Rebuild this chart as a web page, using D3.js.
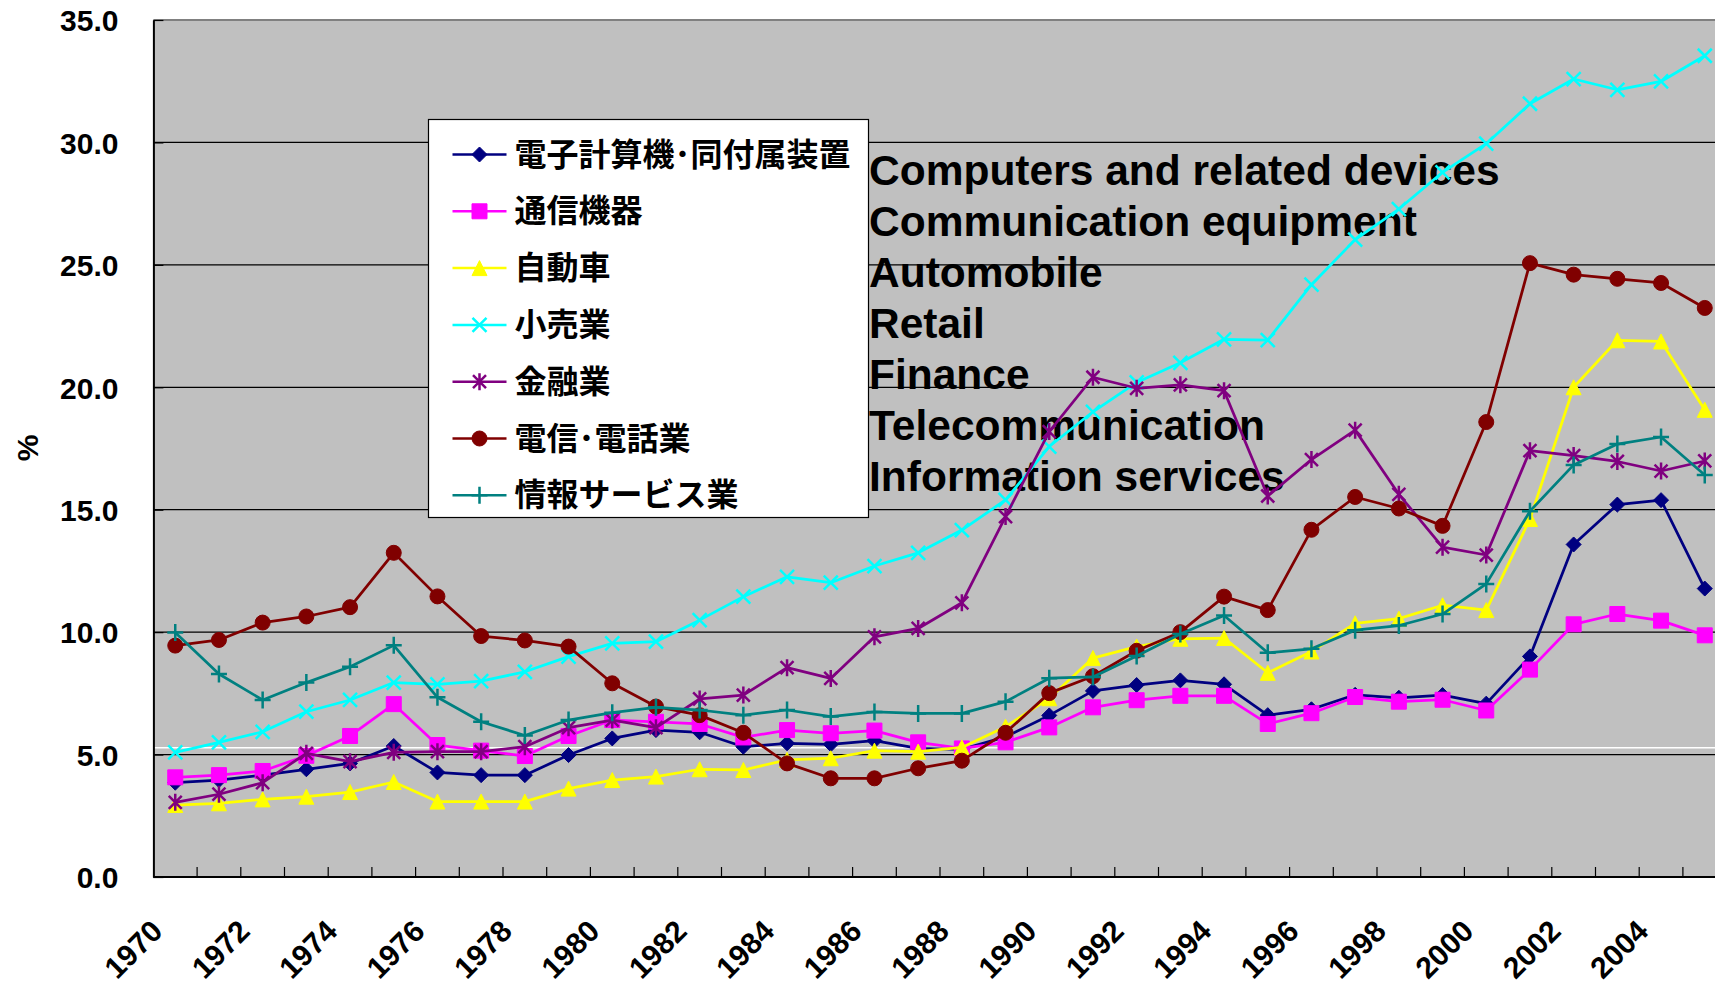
<!DOCTYPE html>
<html lang="ja">
	<head>
		<meta charset="utf-8">
		<title>業種別 推移</title>
		<script type="text/javascript" src="https://cdn.jsdelivr.net/npm/d3@7"></script>
		<style type="text/css">
			body{
				margin: 0;
				background: #ffffff;
			}
			.ylab, .xlab, .unit{
				font-family: "Liberation Sans", Arial, sans-serif;
				font-weight: bold;
				font-size: 30px;
				fill: #000000;
			}
			.legText{
				font-family: "Noto Sans CJK JP", sans-serif;
				font-weight: bold;
				font-size: 32px;
				fill: #000000;
			}
			.enText{
				font-family: "Liberation Sans", Arial, sans-serif;
				font-weight: bold;
				font-size: 42.5px;
				fill: #000000;
			}
		</style>
	</head>
	<body>
		<div class="chart"></div>
		<script type="text/javascript">

			// categories
			var years = ["1970","1971","1972","1973","1974","1975","1976","1977","1978","1979",
				"1980","1981","1982","1983","1984","1985","1986","1987","1988","1989",
				"1990","1991","1992","1993","1994","1995","1996","1997","1998","1999",
				"2000","2001","2002","2003","2004","2005"];

			var xTickLabels = ["1970","1972","1974","1976","1978","1980","1982","1984","1986",
				"1988","1990","1992","1994","1996","1998","2000","2002","2004"];

			var yTicks = [0, 5, 10, 15, 20, 25, 30, 35];

			var seriesNames = ["電子計算機･同付属装置","通信機器","自動車","小売業","金融業","電信･電話業","情報サービス業"];

			var englishNames = ["Computers and related devices","Communication equipment","Automobile",
				"Retail","Finance","Telecommunication","Information services"];

			// values (%), 1970-2005
			var computers = [3.85,3.96,4.16,4.40,4.64,5.35,4.27,4.16,4.16,4.98,
				5.66,6.00,5.91,5.32,5.46,5.42,5.57,5.25,5.21,5.72,
				6.60,7.60,7.84,8.03,7.87,6.61,6.85,7.44,7.32,7.43,
				7.08,9.01,13.58,15.21,15.39,11.78];

			var communication = [4.07,4.16,4.33,4.95,5.76,7.06,5.39,5.16,4.94,5.76,
				6.41,6.34,6.25,5.70,6.00,5.87,5.98,5.50,5.25,5.50,
				6.11,6.93,7.22,7.40,7.40,6.25,6.69,7.35,7.16,7.24,
				6.80,8.47,10.32,10.74,10.47,9.87];

			var automobile = [2.94,3.01,3.17,3.28,3.47,3.88,3.08,3.08,3.08,3.61,
				3.96,4.10,4.40,4.37,4.78,4.85,5.16,5.12,5.29,6.14,
				7.30,8.94,9.41,9.73,9.76,8.34,9.21,10.36,10.55,11.10,
				10.90,14.62,20.00,21.92,21.87,19.08];

			var retail = [5.09,5.50,5.93,6.75,7.23,7.94,7.87,8.00,8.38,9.00,
				9.54,9.61,10.49,11.45,12.26,12.02,12.70,13.24,14.17,15.40,
				17.58,19.00,20.20,21.00,21.96,21.93,24.19,26.03,27.28,28.78,
				29.95,31.58,32.59,32.15,32.49,33.54];

			var finance = [3.05,3.38,3.85,5.05,4.71,5.09,5.12,5.12,5.32,6.10,
				6.41,6.10,7.27,7.43,8.55,8.11,9.81,10.15,11.20,14.72,
				18.19,20.41,19.96,20.10,19.86,15.56,17.05,18.25,15.63,13.47,
				13.15,17.41,17.21,16.97,16.58,16.99];

			var telecom = [9.45,9.68,10.39,10.64,11.02,13.24,11.46,9.84,9.66,9.41,
				7.91,6.96,6.61,5.89,4.64,4.03,4.03,4.44,4.75,5.89,
				7.51,8.20,9.24,10.00,11.45,10.90,14.18,15.52,15.05,14.34,
				18.58,25.07,24.60,24.43,24.26,23.24];

			var infoServices = [9.99,8.29,7.23,7.94,8.59,9.46,7.34,6.34,5.78,6.41,
				6.71,6.93,6.82,6.61,6.82,6.55,6.74,6.68,6.68,7.16,
				8.12,8.17,9.03,9.92,10.68,9.16,9.32,10.08,10.27,10.74,
				11.97,14.94,16.83,17.68,17.97,16.42];

			var whiteLineValue = 5.28;

			var seriesValues = [computers, communication, automobile, retail, finance, telecom, infoServices];
			var seriesColors = ["#000080","#ff00ff","#ffff00","#00ffff","#800080","#800000","#008080"];
			var seriesMarkers = ["diamond","square","triangle","x","star","circle","plus"];

			var w = 1715;
			var h = 985;

			var plotLeft = 153.4;
			var plotTop = 20;
			var plotBottom = 877;
			var step = 43.7;
			var plotRight = plotLeft + step * years.length;

			var svg = d3.select("div.chart")
						.append("svg")
						.attr("width", w)
						.attr("height", h)
						.style("display", "block");

			var xScale = d3.scaleBand()
							.domain(years)
							.range([plotLeft, plotRight]);

			var yScale = d3.scaleLinear()
							.domain([0, 35])
							.range([plotBottom, plotTop]);

			var cx = function(d){ return xScale(d) + xScale.bandwidth() / 2; };

			// marker shapes
			function markerPath(type){
				var s = 7.5;
				switch(type){
					case "diamond": return "M0,"+(-s)+"L"+s+",0L0,"+s+"L"+(-s)+",0Z";
					case "square": return "M"+(-s)+","+(-s)+"H"+s+"V"+s+"H"+(-s)+"Z";
					case "triangle": return "M0,"+(-s)+"L"+s+","+s+"L"+(-s)+","+s+"Z";
					case "circle": return "M"+(-s)+",0A"+s+","+s+" 0 1,0 "+s+",0A"+s+","+s+" 0 1,0 "+(-s)+",0Z";
					case "x": return "M-7,-7L7,7M-7,7L7,-7";
					case "star": return "M-6.5,-6.5L6.5,6.5M-6.5,6.5L6.5,-6.5M0,-8.5V8.5";
					case "plus": return "M-8,0H8M0,-8.5V8.5";
				}
			}

			function drawMarker(g, type, color){
				var filled = (type == "diamond" || type == "square" || type == "triangle" || type == "circle");
				g.append("path")
					.attr("d", markerPath(type))
					.attr("fill", filled ? color : "none")
					.attr("stroke", color)
					.attr("stroke-width", filled ? 1 : 2.5);
			}

			// plot area
			svg.append("rect")
				.attr("x", plotLeft)
				.attr("y", plotTop)
				.attr("width", plotRight - plotLeft)
				.attr("height", plotBottom - plotTop)
				.attr("fill", "#c0c0c0");

			svg.selectAll("line.grid")
				.data(yTicks.filter(function(d){ return d > 0 && d < 35; }))
				.enter()
				.append("line")
				.attr("class", "grid")
				.attr("x1", plotLeft)
				.attr("x2", plotRight)
				.attr("y1", function(d){ return yScale(d); })
				.attr("y2", function(d){ return yScale(d); })
				.attr("stroke", "#000000")
				.attr("stroke-width", 1.2);

			svg.append("line")
				.attr("x1", plotLeft)
				.attr("x2", plotRight)
				.attr("y1", yScale(35))
				.attr("y2", yScale(35))
				.attr("stroke", "#808080")
				.attr("stroke-width", 2);

			svg.append("line")
				.attr("x1", plotLeft)
				.attr("x2", plotRight)
				.attr("y1", yScale(whiteLineValue))
				.attr("y2", yScale(whiteLineValue))
				.attr("stroke", "#ffffff")
				.attr("stroke-width", 1.5);

			// english labels (under the lines)
			svg.append("g")
				.selectAll("text")
				.data(englishNames)
				.enter()
				.append("text")
				.attr("class", "enText")
				.attr("x", 869)
				.attr("y", function(d, i){ return 185 + i * 51; })
				.text(function(d){ return d; });

			// y axis
			var yAxis = d3.axisLeft(yScale)
						.tickValues(yTicks)
						.tickFormat(d3.format(".1f"))
						.tickSizeInner(-10)
						.tickSizeOuter(0)
						.tickPadding(35);

			var gy = svg.append("g")
						.attr("transform", "translate(" + plotLeft + ",0)")
						.call(yAxis);
			gy.select(".domain").attr("stroke", "#000000").attr("stroke-width", 2);
			gy.selectAll(".tick line").attr("stroke", "#000000").attr("stroke-width", 1.2);
			gy.selectAll(".tick text").attr("class", "ylab").attr("dy", "0.36em");

			// x axis
			svg.append("line")
				.attr("x1", plotLeft)
				.attr("x2", plotRight)
				.attr("y1", plotBottom)
				.attr("y2", plotBottom)
				.attr("stroke", "#000000")
				.attr("stroke-width", 2);

			svg.selectAll("line.xtick")
				.data(years)
				.enter()
				.append("line")
				.attr("class", "xtick")
				.attr("x1", function(d){ return xScale(d) + step; })
				.attr("x2", function(d){ return xScale(d) + step; })
				.attr("y1", plotBottom)
				.attr("y2", plotBottom - 10)
				.attr("stroke", "#000000")
				.attr("stroke-width", 1.2);

			var xAxis = d3.axisBottom(xScale)
						.tickValues(xTickLabels)
						.tickSize(0)
						.tickPadding(0);

			var gx = svg.append("g")
						.attr("transform", "translate(0," + plotBottom + ")")
						.call(xAxis);
			gx.select(".domain").remove();
			gx.selectAll(".tick text")
				.attr("class", "xlab")
				.attr("text-anchor", "end")
				.attr("y", 0)
				.attr("dy", null)
				.attr("transform", "translate(-11,56) rotate(-45)");

			// unit label
			svg.append("text")
				.attr("class", "unit")
				.attr("text-anchor", "middle")
				.attr("transform", "translate(38,448) rotate(-90)")
				.text("%");

			// series
			var line = d3.line()
						.x(function(d){ return cx(d.year); })
						.y(function(d){ return yScale(d.value); });

			var plot = svg.append("g");

			seriesValues.forEach(function(vals, k){
				var pts = years.map(function(y, i){ return {year: y, value: vals[i]}; });
				var g = plot.append("g");
				g.append("path")
					.datum(pts)
					.attr("d", line)
					.attr("fill", "none")
					.attr("stroke", seriesColors[k])
					.attr("stroke-width", 2.75)
					.attr("stroke-linejoin", "round");
				g.selectAll("g.mk")
					.data(pts)
					.enter()
					.append("g")
					.attr("class", "mk")
					.attr("transform", function(d){ return "translate(" + cx(d.year) + "," + yScale(d.value) + ")"; })
					.each(function(){ drawMarker(d3.select(this), seriesMarkers[k], seriesColors[k]); });
			});

			// legend
			var legend = svg.append("g")
							.attr("transform", "translate(428.5,119.5)");

			legend.append("rect")
				.attr("width", 440)
				.attr("height", 398)
				.attr("fill", "#ffffff")
				.attr("stroke", "#000000")
				.attr("stroke-width", 1.2);

			var rows = legend.selectAll("g.row")
							.data(seriesNames)
							.enter()
							.append("g")
							.attr("class", "row")
							.attr("transform", function(d, i){ return "translate(0," + (35 + i * 56.8) + ")"; });

			rows.append("line")
				.attr("x1", 24)
				.attr("x2", 78)
				.attr("stroke", function(d, i){ return seriesColors[i]; })
				.attr("stroke-width", 2.5);

			rows.append("g")
				.attr("transform", "translate(51,0)")
				.each(function(d, i){ drawMarker(d3.select(this), seriesMarkers[i], seriesColors[i]); });

			rows.append("text")
				.attr("class", "legText")
				.attr("x", 86)
				.attr("y", 11)
				.text(function(d){ return d; });

		</script>
	</body>
</html>
